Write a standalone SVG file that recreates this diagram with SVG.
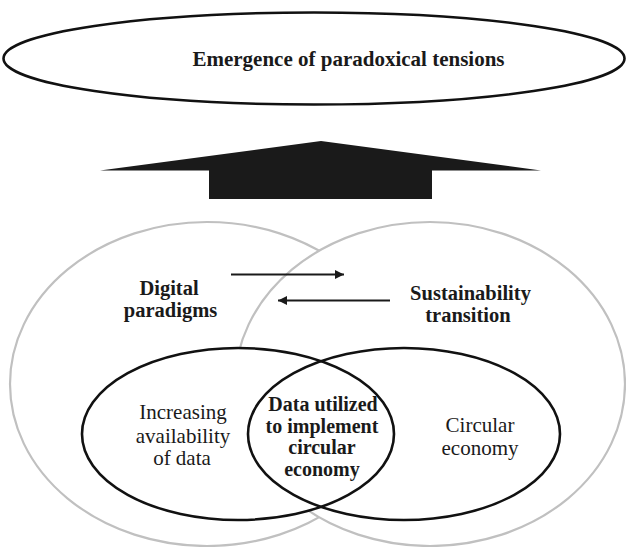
<svg xmlns="http://www.w3.org/2000/svg" width="626" height="547" viewBox="0 0 626 547">
  <defs>
    <marker id="head" viewBox="0 0 10 10" refX="10" refY="5" markerWidth="10" markerHeight="9" markerUnits="userSpaceOnUse" orient="auto">
      <path d="M0,0 L10,5 L0,10 z" fill="#1a1a1a"/>
    </marker>
  </defs>
  <style>
    text { font-family: "Liberation Serif", "Times New Roman", serif; fill: #1a1a1a; text-anchor: middle; }
    .b { font-weight: bold; }
    .domain { fill: #ffffff; stroke: #c0c0c0; stroke-width: 2.2; }
    .field-fill { fill: #ffffff; stroke: none; }
    .field { fill: none; stroke: #111111; stroke-width: 2.6; }
    .outcome { fill: #ffffff; stroke: #111111; stroke-width: 2.6; }
    .link { stroke: #1a1a1a; stroke-width: 2.2; fill: none; marker-end: url(#head); }
  </style>
  <rect width="626" height="547" fill="#ffffff"/>

  <!-- outcome at the top -->
  <g id="tensions">
    <ellipse class="outcome" cx="314" cy="58.5" rx="310.5" ry="46"/>
    <text class="b" x="348.5" y="66" font-size="21">Emergence of paradoxical tensions</text>
  </g>

  <!-- two overlapping domains -->
  <g id="digital">
    <ellipse class="domain" cx="207" cy="384" rx="197" ry="162"/>
  </g>
  <g id="sustainability">
    <ellipse class="domain" cx="430" cy="384" rx="195" ry="162"/>
  </g>

  <!-- inner fields: white fills first so both outlines stay visible -->
  <g id="inner-fields">
    <ellipse class="field-fill" cx="238" cy="434" rx="156" ry="86"/>
    <ellipse class="field-fill" cx="404" cy="434" rx="156" ry="86"/>
  </g>
  <g id="data">
    <ellipse class="field" cx="238" cy="434" rx="156" ry="86"/>
    <text x="183" y="419" font-size="21">Increasing</text>
    <text x="183" y="443" font-size="21">availability</text>
    <text x="182" y="465" font-size="21">of data</text>
  </g>
  <g id="circular">
    <ellipse class="field" cx="404" cy="434" rx="156" ry="86"/>
    <text x="480" y="432" font-size="21">Circular</text>
    <text x="480" y="455" font-size="21">economy</text>
  </g>
  <g id="overlap">
    <text class="b" x="323" y="411" font-size="20">Data utilized</text>
    <text class="b" x="322" y="433" font-size="20">to implement</text>
    <text class="b" x="322" y="454" font-size="20">circular</text>
    <text class="b" x="322" y="476" font-size="20">economy</text>
  </g>

  <!-- domain labels -->
  <g id="digital-label">
    <text class="b" x="169" y="295" font-size="20.5">Digital</text>
    <text class="b" x="170.5" y="317" font-size="20.5">paradigms</text>
  </g>
  <g id="sustainability-label">
    <text class="b" x="470.5" y="300" font-size="20.5">Sustainability</text>
    <text class="b" x="468" y="322" font-size="20.5">transition</text>
  </g>

  <!-- connectors -->
  <g id="connectors">
    <line class="link" x1="231" y1="274.5" x2="344" y2="274.5"/>
    <line class="link" x1="390" y1="300.5" x2="278" y2="300.5"/>
    <polygon points="100,170.5 321,141 541,170.5 432,170.5 432,199 209,199 209,170.5" fill="#1a1a1a"/>
  </g>
</svg>
